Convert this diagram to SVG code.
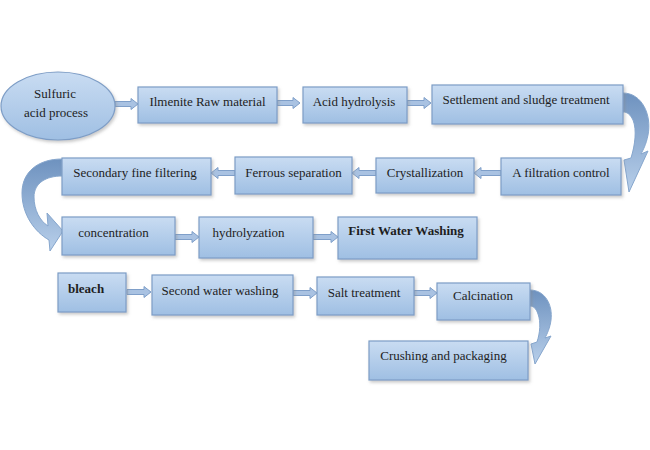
<svg xmlns="http://www.w3.org/2000/svg" width="650" height="450" viewBox="0 0 650 450">
<defs>
<linearGradient id="g" x1="0" y1="0" x2="0" y2="1">
<stop offset="0" stop-color="#c9dcf2"/>
<stop offset="1" stop-color="#9fbfe3"/>
</linearGradient>
<linearGradient id="ga" x1="0" y1="0" x2="0" y2="1">
<stop offset="0" stop-color="#6e92bf"/>
<stop offset="1" stop-color="#b8cfea"/>
</linearGradient>
<filter id="sh" x="-10%" y="-10%" width="130%" height="140%">
<feDropShadow dx="1.5" dy="2" stdDeviation="1.5" flood-color="#8a8a8a" flood-opacity="0.45"/>
</filter>
<style>
.b{fill:url(#g);stroke:#7d9dc6;stroke-width:1.2;filter:url(#sh)}
.t{font-family:"Liberation Serif","Times New Roman",serif;font-size:13px;fill:#1e1e1e}
.c{text-anchor:middle}
.bd{font-weight:bold}
.a{fill:#a9c2e2;stroke:#7f9fc9;stroke-width:1}
.ca{fill:url(#ga);stroke:#86a6cd;stroke-width:1}
</style>
</defs>
<rect width="650" height="450" fill="#ffffff"/>
<g id="connectors">
<polygon class="a" points="115,101.5 131,101.5 131,98.5 138,104 131,109.5 131,106.5 115,106.5"/>
<polygon class="a" points="277,100.5 293,100.5 293,97.5 300,103 293,108.5 293,105.5 277,105.5"/>
<polygon class="a" points="407,100.5 424,100.5 424,97.5 431,103 424,108.5 424,105.5 407,105.5"/>
<polygon class="a" points="501,170.5 481,170.5 481,167.5 474,173 481,178.5 481,175.5 501,175.5"/>
<polygon class="a" points="376,170.5 359,170.5 359,167.5 352,173 359,178.5 359,175.5 376,175.5"/>
<polygon class="a" points="235,170.5 218,170.5 218,167.5 211,173 218,178.5 218,175.5 235,175.5"/>
<polygon class="a" points="175,234.5 192,234.5 192,231.5 199,237 192,242.5 192,239.5 175,239.5"/>
<polygon class="a" points="313,234.5 331,234.5 331,231.5 338,237 331,242.5 331,239.5 313,239.5"/>
<polygon class="a" points="127,289.5 144,289.5 144,286.5 151,292 144,297.5 144,294.5 127,294.5"/>
<polygon class="a" points="293,290.5 310,290.5 310,287.5 317,293 310,298.5 310,295.5 293,295.5"/>
<polygon class="a" points="414,290.5 430,290.5 430,287.5 437,293 430,298.5 430,295.5 414,295.5"/>
<path class="ca" d="M 623 93 C 642 93, 652 115, 648 135 C 646 145, 643 150, 641 154 L 648 151 L 629 192 L 624 160 L 631 158 C 635 145, 637 130, 633 120 C 630 114, 627 112, 623 112 Z"/>
<path class="ca" d="M 62 159 C 38 159, 22 172, 22 193 C 22 215, 35 232, 49 240 L 50 251 L 63 231 L 47 213 L 48 226 C 40 221, 34 210, 34 197 C 34 183, 46 176, 62 176 Z"/>
<path class="ca" d="M 530 290 C 545 290, 553 305, 551 320 C 550 328, 547 334, 545 338 L 551 336 L 535 364 L 531 344 L 537 342 C 540 333, 541 322, 538 314 C 536 308, 533 306, 530 306 Z"/>
</g>
<g id="n0"><ellipse class="b" cx="58" cy="106" rx="57" ry="34"/><text class="t c" x="55" y="98">Sulfuric</text><text class="t c" x="56" y="117">acid process</text></g>
<g id="n1"><rect class="b" x="138" y="87" width="139" height="36"/><text class="t c" x="207.5" y="106">Ilmenite Raw material</text></g>
<g id="n2"><rect class="b" x="303" y="87" width="104" height="36"/><text class="t c" x="354" y="106">Acid hydrolysis</text></g>
<g id="n3"><rect class="b" x="432" y="85" width="191" height="39"/><text class="t c" x="526" y="104">Settlement and sludge treatment</text></g>
<g id="n4"><rect class="b" x="501" y="158" width="120" height="37"/><text class="t c" x="561" y="177">A filtration control</text></g>
<g id="n5"><rect class="b" x="376" y="158" width="98" height="35"/><text class="t c" x="425" y="177">Crystallization</text></g>
<g id="n6"><rect class="b" x="235" y="157" width="117" height="37"/><text class="t c" x="293.5" y="177">Ferrous separation</text></g>
<g id="n7"><rect class="b" x="62" y="158" width="149" height="37"/><text class="t c" x="135" y="177">Secondary fine filtering</text></g>
<g id="n8"><rect class="b" x="62" y="217" width="113" height="38"/><text class="t c" x="113.5" y="237">concentration</text></g>
<g id="n9"><rect class="b" x="199" y="217" width="114" height="41"/><text class="t c" x="248.5" y="237">hydrolyzation</text></g>
<g id="n10"><rect class="b" x="338" y="217" width="139" height="42"/><text class="t c bd" x="406" y="235">First Water Washing</text></g>
<g id="n11"><rect class="b" x="58" y="273" width="68" height="39"/><text class="t bd" x="68" y="293">bleach</text></g>
<g id="n12"><rect class="b" x="152" y="275" width="141" height="40"/><text class="t c" x="220" y="295">Second water washing</text></g>
<g id="n13"><rect class="b" x="317" y="277" width="97" height="38"/><text class="t c" x="364" y="297">Salt treatment</text></g>
<g id="n14"><rect class="b" x="437" y="283" width="93" height="37"/><text class="t c" x="483" y="300">Calcination</text></g>
<g id="n15"><rect class="b" x="369" y="341" width="159" height="39"/><text class="t c" x="443.5" y="360">Crushing and packaging</text></g>
</svg>
